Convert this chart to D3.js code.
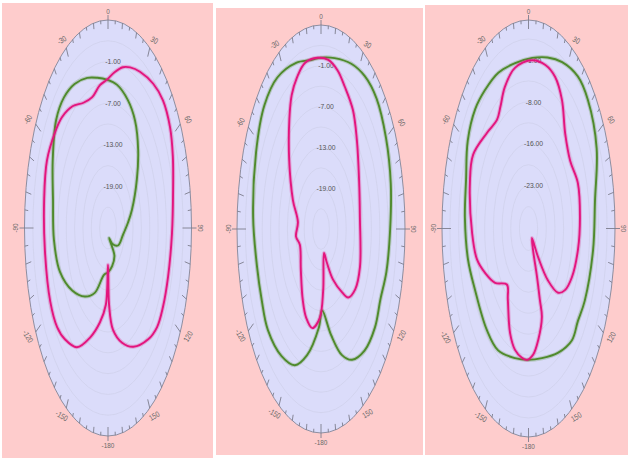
<!DOCTYPE html>
<html><head><meta charset="utf-8">
<script src="https://cdn.jsdelivr.net/npm/d3@7"></script>
<style>body{margin:0;background:#fff;}svg{display:block}</style>
</head><body><svg id="chart" width="628" height="464"></svg>
<script>
// ---- data ----
const angleTicks = [0, 30, 60, 90, 120, 150, 180, -150, -120, -90, -60, -30];
const angleLabels = ["0", "30", "60", "90", "120", "150", "-180", "-150", "-120", "-90", "-60", "-30"];

const p1Domain = [-25, 5];
const p1RingValues = [-1, -7, -13, -19];
const p1RingLabels = ["-1.00", "-7.00", "-13.00", "-19.00"];
const p1Grid = [-22, -19, -16, -13, -10, -7, -4, -1, 2];
const p1GreenAngles = [-168,-153,-140,-125,-110,-95,-78,-64,-50,-40,-30,-19,-10,-1,9,21,32,44,56,73,84,100,125,145,165,150,165,180];
const p1GreenGain = [-18.1,-14.5,-12.1,-9.3,-6.6,-5.5,-4.8,-2.9,-0.7,-0.4,-1.0,-2.1,-3.0,-3.6,-4.1,-5.2,-6.7,-9.4,-12.5,-16.0,-17.8,-19.5,-20.6,-22.2,-23.5,-20.4,-19.3,-18.6];
const p1MagentaAngles = [-176,-168,-158,-147,-136,-128,-117,-98,-80,-66,-54,-46,-36,-26,-17,-8,-1,6,13,19,27,38,47,57,66,77,92,108,120,129,138,152,163,173,178,180];
const p1MagentaGain = [-13.9,-11.1,-8.0,-4.5,-2.7,-1.8,-1.7,-2.1,-1.7,-1.0,-1.5,-2.0,-3.3,-4.9,-5.3,-4.2,-3.6,-2.4,-1.2,-0.5,0.3,1.4,2.0,1.6,0.5,-1.0,-2.0,-2.3,-2.2,-2.3,-3.4,-5.6,-7.7,-10.2,-13.9,-19.7];

const p2Domain = [-25, 5];
const p2RingValues = [-1, -7, -13, -19];
const p2RingLabels = ["-1.00", "-7.00", "-13.00", "-19.00"];
const p2Grid = [-22, -19, -16, -13, -10, -7, -4, -1, 2];
const p2GreenAngles = [-177,-165,-155,-143,-128,-116,-104,-86,-64,-48,-35,-20,-8,0,11,24,35,46,60,75,90,105,116,127,139,150,158,167,178];
const p2GreenGain = [-10.5,-5.8,-2.9,-1.6,-0.9,-1.4,-1.5,-0.7,0.8,2.2,2.2,1.0,0.1,0.2,0.6,1.6,2.4,2.6,1.8,0.8,-0.3,-0.8,-1.4,-0.9,-1.3,-2.8,-5.0,-9.0,-13.0];
const p2MagentaAngles = [-178,-168,-158,-148,-130,-107,-97,-83,-67,-48,-35,-28,-21,-13,-2.5,6,14,22,33,44,62,83,112,126,136,141,150,157,163,175];
const p2MagentaGain = [-11.9,-10.1,-10.9,-12.7,-15.6,-17.1,-16.0,-16.7,-14.1,-9.7,-5.3,-2.7,-1.1,0.1,0.2,0.0,-0.9,-2.4,-4.1,-6.6,-9.6,-11.0,-10.0,-9.9,-11.0,-13.0,-16.4,-19.6,-21.3,-16.0];

const p3Domain = [-30.5, 6];
const p3RingValues = [-1, -8.33, -15.67, -23];
const p3RingLabels = ["-1.00", "-8.00", "-16.00", "-23.00"];
const p3Grid = [-26.67, -23, -19.33, -15.67, -12, -8.33, -4.67, -1, 2.67];
const p3GreenAngles = [-179.5,-166,-149,-135,-115.5,-102,-86,-72,-59,-47,-37,-25,-11,3,15,26,38,48,64,80,98,118,128,137,150,166];
const p3GreenGain = [-7.5,-7.1,-5.6,-5.5,-5.5,-4.4,-3.6,-2.8,-0.6,0.2,-0.1,-0.4,-1.0,-0.6,0.5,1.9,3.3,3.2,1.5,-2.0,-3.0,-3.6,-4.1,-3.7,-5.4,-7.1];
const p3MagentaAngles = [-178.5,-173,-165,-157,-145,-137,-124,-113,-104,-92,-72,-61,-46,-35,-29,-22,-11.5,3,14,23,32,43,56,69,85,100,115,125,132,138,141,139,153,157,159,160,168,175];
const p3MagentaGain = [-7.5,-7.7,-8.5,-10.6,-15.3,-17.1,-13.5,-10.6,-8.1,-6.7,-4.5,-3.8,-6.3,-7.3,-6.1,-3.8,-1.8,-1.0,-1.0,-1.7,-3.9,-7.8,-9.3,-8.2,-8.7,-9.3,-10.3,-11.7,-13.7,-18.3,-24.1,-28.3,-26.3,-21.3,-17.1,-14.0,-10.6,-8.3];

// ---- layout ----
const panels = [
  {x0:2, y0:3, w:211, h:455, cx:108, cy:228, rx:83.5, ry:208,
   domain:p1Domain, rings:p1RingValues, ringLabels:p1RingLabels, grid:p1Grid,
   series:[[p1GreenAngles,p1GreenGain,"#4f8a2c"],[p1MagentaAngles,p1MagentaGain,"#e3157e"]]},
  {x0:216, y0:8, w:207, h:447, cx:321, cy:229, rx:84, ry:204,
   domain:p2Domain, rings:p2RingValues, ringLabels:p2RingLabels, grid:p2Grid,
   series:[[p2GreenAngles,p2GreenGain,"#4f8a2c"],[p2MagentaAngles,p2MagentaGain,"#e3157e"]]},
  {x0:425, y0:5, w:203, h:450, cx:528.5, cy:228.5, rx:86.5, ry:208.5,
   domain:p3Domain, rings:p3RingValues, ringLabels:p3RingLabels, grid:p3Grid,
   series:[[p3GreenAngles,p3GreenGain,"#4f8a2c"],[p3MagentaAngles,p3MagentaGain,"#e3157e"]]}
];

const svg = d3.select("#chart");
const rad = d => d * Math.PI / 180;

panels.forEach(p => {
  svg.append("rect").attr("x", p.x0).attr("y", p.y0).attr("width", p.w).attr("height", p.h)
    .attr("fill", "#fecccc");
  const g = svg.append("g").attr("transform", `translate(${p.cx},${p.cy})`);
  const rs = d3.scaleLinear().domain(p.domain).range([0, 1]).clamp(true);
  const px = (a, v) => p.rx * rs(v) * Math.sin(rad(a));
  const py = (a, v) => -p.ry * rs(v) * Math.cos(rad(a));

  g.append("ellipse").attr("rx", p.rx).attr("ry", p.ry)
    .attr("fill", "#dbdcfa").attr("stroke", "#8e8ea0").attr("stroke-width", 1);

  // grid rings
  g.selectAll("ellipse.grid").data(p.grid).join("ellipse").attr("class", "grid")
    .attr("rx", v => p.rx * rs(v)).attr("ry", v => p.ry * rs(v))
    .attr("fill", "none").attr("stroke", "#cfd0ea").attr("stroke-width", 0.7);

  // ticks
  const tickAngles = d3.range(-180, 180, 5);
  g.selectAll("line.tick").data(tickAngles).join("line").attr("class", "tick")
    .each(function(a) {
      const ex = p.rx * Math.sin(rad(a)), ey = -p.ry * Math.cos(rad(a));
      const L = Math.hypot(ex, ey);
      const len = a % 30 === 0 ? 9 : (a % 10 === 0 ? 6 : 3.5);
      const k = 1 - len / L;
      const out = (a % 90 === 0) ? 1 + 5 / L : 1;
      d3.select(this).attr("x1", ex * out).attr("y1", ey * out).attr("x2", ex * k).attr("y2", ey * k);
    })
    .attr("stroke", "#7d7d8c").attr("stroke-width", 0.9);

  // angle labels
  g.selectAll("text.ang").data(angleTicks).join("text").attr("class", "ang")
    .attr("transform", (a) => {
      const x = (p.rx + 9) * Math.sin(rad(a)), y = -(p.ry + 9) * Math.cos(rad(a));
      let r = a;
      if (a > 90) r = a - 180; else if (a < -90) r = a + 180;
      return `translate(${x},${y}) rotate(${r}) scale(0.8,1)`;
    })
    .attr("text-anchor", "middle").attr("dominant-baseline", "central")
    .attr("font-family", "Liberation Sans, Arial, sans-serif").attr("font-size", 8)
    .attr("fill", "#6a6a6a")
    .text((a, i) => angleLabels[i]);

  // ring labels
  g.selectAll("text.ring").data(p.rings).join("text").attr("class", "ring")
    .attr("transform", v => `translate(5,${-p.ry * rs(v)}) scale(0.85,1)`)
    .attr("text-anchor", "middle").attr("dominant-baseline", "central")
    .attr("font-family", "Liberation Sans, Arial, sans-serif").attr("font-size", 8)
    .attr("fill", "#555")
    .text((v, i) => p.ringLabels[i]);

  // curves
  const line = d3.line().x(d => px(d[0], d[1])).y(d => py(d[0], d[1]))
    .curve(d3.curveCatmullRomClosed.alpha(0.5));
  p.series.forEach(([angs, gains, col]) => {
    const pts = angs.map((a, i) => [a, gains[i]]);
    g.append("path").attr("d", line(pts)).attr("fill", "none")
      .attr("stroke", col).attr("stroke-opacity", 0.25).attr("stroke-width", 4);
    g.append("path").attr("d", line(pts)).attr("fill", "none")
      .attr("stroke", col).attr("stroke-width", 1.9).attr("stroke-linejoin", "round");
  });
});
</script></body></html>
